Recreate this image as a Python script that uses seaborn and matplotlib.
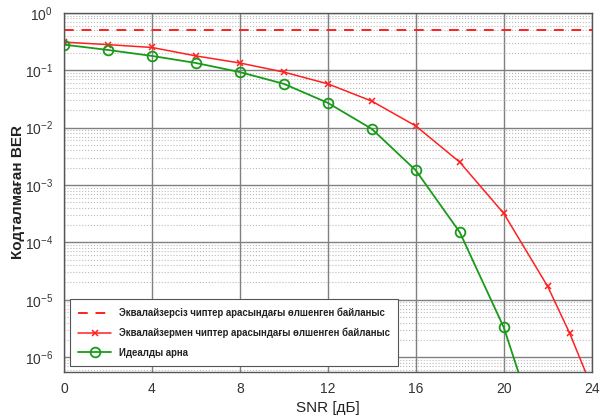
import matplotlib
matplotlib.use("Agg")
import matplotlib.pyplot as plt
import numpy as np
import pandas as pd
import seaborn as sns
from matplotlib.ticker import FixedLocator, LogLocator, NullFormatter

# --- data ---
snr_noeq = [0, 24]
ber_noeq = [0.5, 0.5]

snr_eq = [0, 2, 4, 6, 8, 10, 12, 14, 16, 18, 20, 22, 23, 24]
ber_eq = [0.31, 0.28, 0.25, 0.178, 0.134, 0.093, 0.058, 0.029,
          0.0107, 0.0025, 3.2e-4, 1.7e-5, 2.6e-6, 3e-7]

snr_ideal = [0, 2, 4, 6, 8, 10, 12, 14, 16, 18, 20, 22]
ber_ideal = [0.28, 0.226, 0.178, 0.134, 0.093, 0.058, 0.027, 0.0095,
             0.0018, 1.5e-4, 3.3e-6, 1.5e-8]

x_ticks = [0, 4, 8, 12, 16, 20, 24]
y_ticks = [1e-6, 1e-5, 1e-4, 1e-3, 1e-2, 1e-1, 1e0]

labels = [
    "Эквалайзерсіз чиптер арасындағы өлшенген байланыс",
    "Эквалайзермен чиптер арасындағы өлшенген байланыс",
    "Идеалды арна",
]

sns.set_style("white")
plt.rcParams["font.family"] = ["Liberation Sans", "DejaVu Sans"]

fig = plt.figure(figsize=(6.01, 4.17), dpi=100)
ax = fig.add_axes([0.1065, 0.108, 0.878, 0.861])

df_noeq = pd.DataFrame({"snr": snr_noeq, "ber": ber_noeq})
df_eq = pd.DataFrame({"snr": snr_eq, "ber": ber_eq})
df_ideal = pd.DataFrame({"snr": snr_ideal, "ber": ber_ideal})

sns.lineplot(data=df_noeq, x="snr", y="ber", ax=ax, color="#ff2020",
             linestyle=(0, (5, 4)), linewidth=1.4, label=labels[0])
sns.lineplot(data=df_eq, x="snr", y="ber", ax=ax, color="#ff2020",
             linewidth=1.1, marker="x", markersize=4.5, markeredgewidth=1.1,
             markeredgecolor="#ff2020", label=labels[1])
sns.lineplot(data=df_ideal, x="snr", y="ber", ax=ax, color="#1a9a1a",
             linewidth=1.3, marker="o", markersize=7, markerfacecolor="none",
             markeredgewidth=1.3, markeredgecolor="#1a9a1a", label=labels[2])

ax.set_yscale("log")
ax.set_xlim(0, 24)
ax.set_ylim(5.5e-7, 1)
ax.xaxis.set_major_locator(FixedLocator(x_ticks))
ax.yaxis.set_major_locator(FixedLocator(y_ticks))
ax.yaxis.set_minor_locator(LogLocator(base=10, subs=np.arange(2, 10), numticks=20))
ax.yaxis.set_minor_formatter(NullFormatter())

ax.grid(True, which="major", color="#808080", linewidth=1.0)
ax.grid(True, which="minor", axis="y", color="#bbbbbb", linestyle=":", linewidth=0.8)
ax.set_axisbelow(True)

for s in ax.spines.values():
    s.set_color("#555555")
    s.set_linewidth(1.0)

ax.tick_params(axis="both", which="major", labelsize=10, colors="#333333",
               direction="in", length=4)
ax.tick_params(axis="y", which="major", pad=8)
ax.tick_params(axis="x", which="major", pad=7)
ax.tick_params(axis="y", which="minor", direction="in", length=2)

ax.set_xlabel("SNR [дБ]", fontsize=11, color="#222222", labelpad=4)
ax.set_ylabel("Кодталмаған BER", fontsize=11, fontweight="bold",
              color="#222222", labelpad=0)

leg = ax.legend(loc="lower left", bbox_to_anchor=(0.002, 0.002), fontsize=6.9,
                frameon=True, fancybox=False, edgecolor="#555555",
                handlelength=3.4, borderpad=0.9, labelspacing=1.0,
                framealpha=1.0)
leg.get_frame().set_linewidth(0.8)
for t in leg.get_texts():
    t.set_fontweight("bold")
    t.set_color("#222222")

fig.savefig("out.png", dpi=100)
